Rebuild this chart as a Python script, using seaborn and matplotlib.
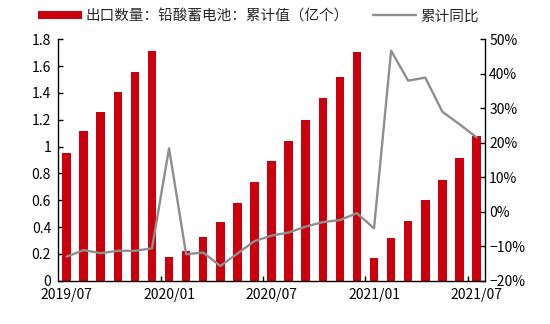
import numpy as np
import pandas as pd
import matplotlib
matplotlib.use('Agg')
import matplotlib.pyplot as plt
import seaborn as sns
from matplotlib.patches import Patch
from matplotlib.lines import Line2D

months = ['2019/07', '2019/08', '2019/09', '2019/10', '2019/11', '2019/12',
          '2020/01', '2020/02', '2020/03', '2020/04', '2020/05', '2020/06',
          '2020/07', '2020/08', '2020/09', '2020/10', '2020/11', '2020/12',
          '2021/01', '2021/02', '2021/03', '2021/04', '2021/05', '2021/06',
          '2021/07']
export_cum = [0.955, 1.118, 1.257, 1.408, 1.555, 1.716,
              0.178, 0.223, 0.323, 0.435, 0.583, 0.735,
              0.890, 1.045, 1.199, 1.365, 1.517, 1.706,
              0.173, 0.320, 0.443, 0.603, 0.748, 0.918,
              1.080]
yoy_pct = [-13.0, -11.1, -12.0, -11.3, -11.3, -10.6,
           18.4, -12.3, -11.8, -15.7, -12.1, -8.5,
           -6.9, -6.0, -4.3, -3.0, -2.4, -0.4,
           -4.8, 46.7, 38.0, 38.9, 29.0, 25.4,
           21.6]
left_ticks = [0, 0.2, 0.4, 0.6, 0.8, 1.0, 1.2, 1.4, 1.6, 1.8]
left_labels = ['0', '0.2', '0.4', '0.6', '0.8', '1', '1.2', '1.4', '1.6', '1.8']
right_ticks = [-20, -10, 0, 10, 20, 30, 40, 50]
right_labels = ['−20%', '−10%', '0%', '10%', '20%', '30%', '40%', '50%']
bar_label = '出口数量：铅酸蓄电池：累计值（亿个）'
line_label = '累计同比'

RED = '#CC000C'
GREY = '#8E8E8E'

sns.set_theme(style='white')
plt.rcParams['font.family'] = ['Noto Sans CJK SC', 'DejaVu Sans']

df = pd.DataFrame({'month': months, 'value': export_cum, 'yoy': yoy_pct,
                   'pos': np.arange(len(months))})

fig = plt.figure(figsize=(5.5, 3.24), dpi=100)
ax = fig.add_axes([0.1055, 0.1333, 0.7764, 0.7454])

sns.barplot(data=df, x='month', y='value', ax=ax, color=RED, width=0.5,
            saturation=1, edgecolor='none')
ax2 = ax.twinx()
sns.lineplot(data=df, x='pos', y='yoy', ax=ax2, color=GREY, lw=1.7)

ax.set_xlim(-0.5, len(months) - 0.5)
ax.set_ylim(0, 1.8)
ax2.set_ylim(-20, 50)

ax.set_xticks(range(0, len(months), 6))
ax.set_xticklabels(months[::6])
ax.set_xticks([5.5, 11.5, 17.5, 23.5], minor=True)
ax.tick_params(axis='x', which='major', length=0, pad=5, labelsize=10, colors='black')
ax.tick_params(axis='x', which='minor', direction='in', length=3.5, width=1, color='black', bottom=True)

ax.set_yticks(left_ticks)
ax.set_yticklabels(left_labels)
ax.tick_params(axis='y', direction='in', length=3.5, width=1, left=True, labelsize=10, colors='black', pad=5)
ax2.set_yticks(right_ticks)
ax2.set_yticklabels(right_labels)
ax2.tick_params(axis='y', direction='in', length=3.5, width=1, right=True, labelsize=10, colors='black', pad=3)

for a in (ax, ax2):
    a.set_xlabel('')
    a.set_ylabel('')
    a.spines['top'].set_visible(False)
    for s in ('left', 'right', 'bottom'):
        a.spines[s].set_color('black')
        a.spines[s].set_linewidth(1)
    a.grid(False)
ax.spines['right'].set_visible(False)
ax2.spines['left'].set_visible(False)
ax2.spines['bottom'].set_visible(False)

handles = [Patch(facecolor=RED, edgecolor='none', label=bar_label),
           Line2D([], [], color=GREY, lw=1.7, label=line_label)]
fig.legend(handles=handles, loc='center', bbox_to_anchor=(0.47, 0.95), ncol=2,
           frameon=False, fontsize=10.5, handlelength=3, handleheight=0.55,
           columnspacing=1.6, handletextpad=0.3)

fig.savefig('out.png', dpi=100)
